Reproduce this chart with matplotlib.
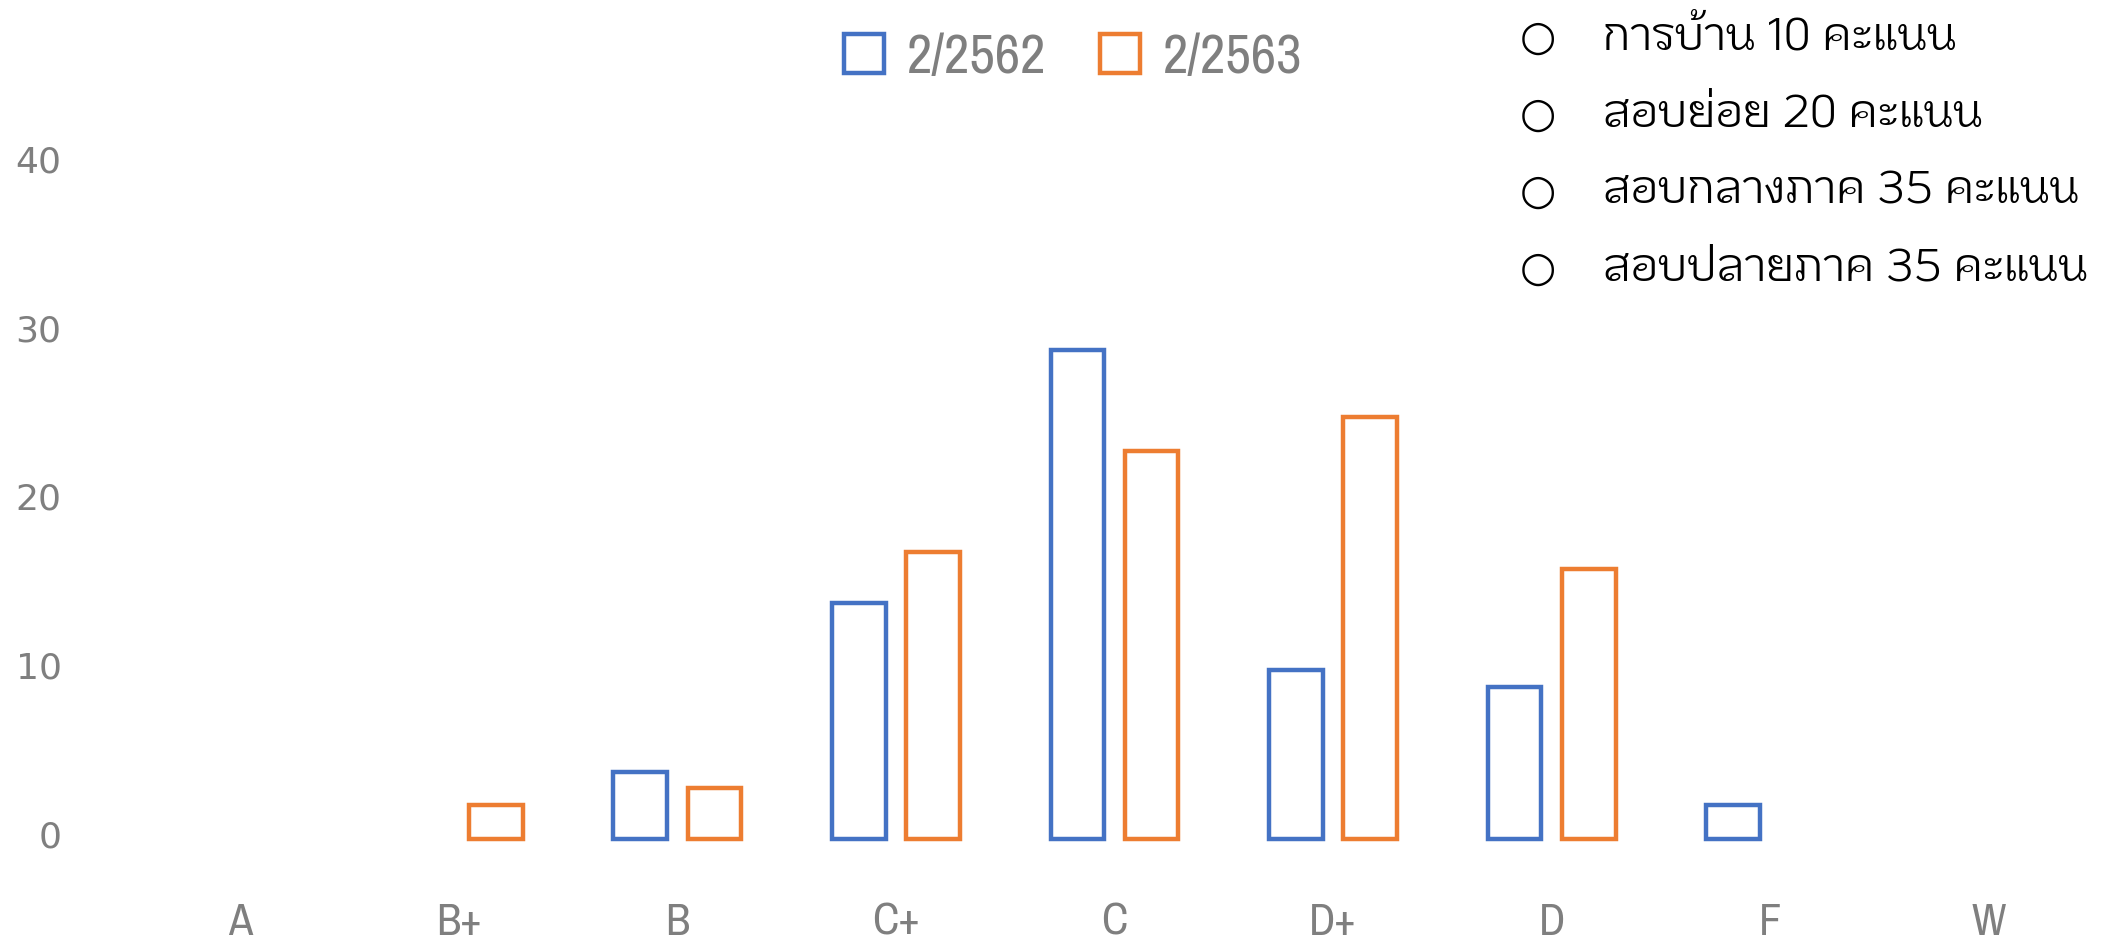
import matplotlib
matplotlib.use('Agg')
import matplotlib.pyplot as plt
import matplotlib.transforms as mtransforms
from matplotlib.patches import Patch
import numpy as np

# Grade distribution, two semesters
grades = ['A', 'B+', 'B', 'C+', 'C', 'D+', 'D', 'F', 'W']
sem_2562 = [0, 0, 4, 14, 29, 10, 9, 2, 0]
sem_2563 = [0, 2, 3, 17, 23, 25, 16, 0, 0]
series_names = ['2/2562', '2/2563']
notes = ['การบ้าน 10 คะแนน', 'สอบย่อย 20 คะแนน',
         'สอบกลางภาค 35 คะแนน', 'สอบปลายภาค 35 คะแนน']

blue = '#4472C4'
orange = '#ED7D31'
grey = '#7F7F7F'
thai_font = ['KoHo', 'Sarabun', 'DejaVu Sans']
narrow_font = ['Archivo Narrow', 'DejaVu Sans']

W, H = 2116, 947
fig = plt.figure(figsize=(W / 100, H / 100), dpi=100)
ax = fig.add_axes([131 / W, 1 - 839 / H, (2098 - 131) / W, (839 - 164) / H])

x = np.arange(len(grades))
bw = 0.245
off = 0.17
for vals, col, sgn in [(sem_2562, blue, -1), (sem_2563, orange, 1)]:
    bars = ax.bar(x + sgn * off, vals, width=bw, facecolor='none',
                  edgecolor=col, linewidth=3.2, clip_on=False)
    # zero-height bars are not shown
    for b, v in zip(bars, vals):
        if v == 0:
            b.set_visible(False)

ax.set_xlim(-0.5, len(grades) - 0.5)
ax.set_ylim(0, 40)
ax.set_yticks([0, 10, 20, 30, 40])
ax.set_xticks(x)
ax.set_xticklabels(grades, family=narrow_font, fontsize=32, color=grey)
ax.tick_params(axis='x', length=0, pad=46)
ax.tick_params(axis='y', length=0, pad=50, labelsize=26, labelcolor=grey)
for lab in ax.get_yticklabels():
    lab.set_family('DejaVu Sans')
    lab.set_transform(lab.get_transform() +
                      mtransforms.ScaledTranslation(0, 5 / 100, fig.dpi_scale_trans))
for s in ax.spines.values():
    s.set_visible(False)

# legend
handles = [Patch(facecolor='none', edgecolor=blue, linewidth=3.2),
           Patch(facecolor='none', edgecolor=orange, linewidth=3.2)]
fig.legend(handles, series_names, loc='center left',
           bbox_to_anchor=(844 / W, 1 - 58 / H), ncol=2, frameon=False,
           prop={'family': narrow_font, 'size': 40}, labelcolor=grey,
           handlelength=0.72, handleheight=0.72, handletextpad=0.42,
           columnspacing=0.95, borderpad=0, borderaxespad=0)

# scoring notes on the right
for i, t in enumerate(notes):
    yy = 1 - (38 + 77 * i) / H
    fig.text(1538 / W, yy, '○', ha='center', va='center', fontsize=30,
             family='DejaVu Sans', color='black')
    fig.text(1603 / W, yy, t, ha='left', va='center', fontsize=33,
             family=thai_font, color='black')

fig.savefig('out.png', dpi=100)
